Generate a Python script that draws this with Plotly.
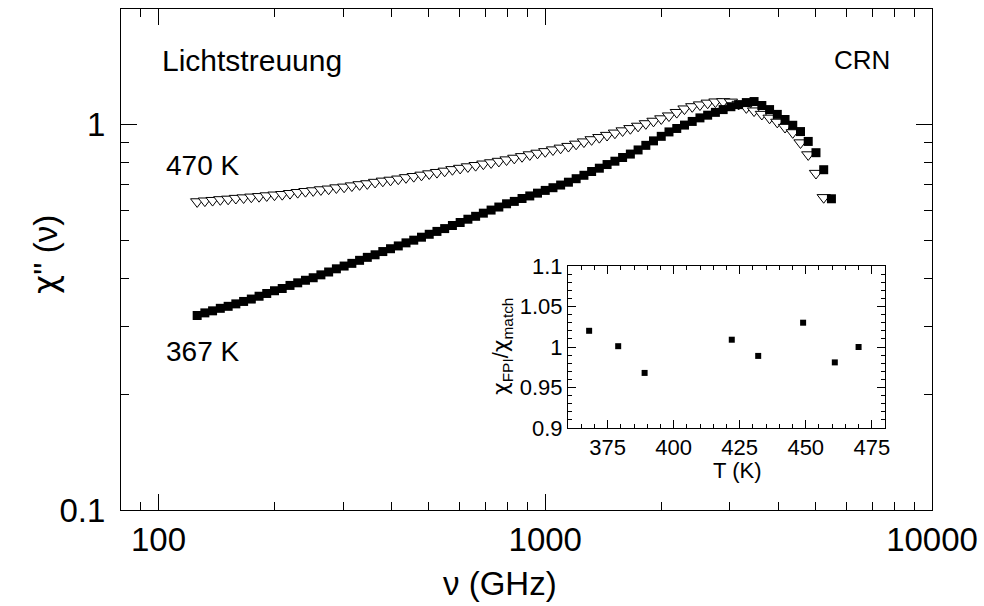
import math
import plotly.graph_objects as go

# ---------------- data ----------------
freq_ghz = [125.9, 131.8, 138.0, 144.5, 151.4, 158.5, 166.0, 173.8, 182.0, 190.5,
            199.5, 208.9, 218.8, 229.1, 239.9, 251.2, 263.0, 275.4, 288.4, 302.0,
            316.2, 331.1, 346.7, 363.1, 380.2, 398.1, 416.9, 436.5, 457.1, 478.6,
            501.2, 524.8, 549.5, 575.4, 602.6, 631.0, 660.7, 691.8, 724.4, 758.6,
            794.3, 831.8, 871.0, 912.0, 955.0, 1000, 1047, 1096, 1148, 1202,
            1259, 1318, 1380, 1445, 1514, 1585, 1660, 1738, 1820, 1905,
            1995, 2089, 2188, 2291, 2399, 2512, 2630, 2754, 2884, 3020,
            3162, 3311, 3467, 3631, 3802, 3981, 4169, 4365, 4571, 4786,
            5012, 5248, 5495]

chi_367K = [0.320, 0.325, 0.329, 0.334, 0.338, 0.343, 0.348, 0.353, 0.359, 0.365,
            0.371, 0.376, 0.383, 0.389, 0.395, 0.401, 0.408, 0.415, 0.423, 0.430,
            0.437, 0.445, 0.453, 0.460, 0.469, 0.477, 0.485, 0.494, 0.502, 0.511,
            0.520, 0.529, 0.538, 0.548, 0.558, 0.569, 0.579, 0.590, 0.601, 0.612,
            0.624, 0.633, 0.644, 0.654, 0.665, 0.676, 0.687, 0.698, 0.710, 0.725,
            0.740, 0.757, 0.772, 0.789, 0.805, 0.823, 0.840, 0.861, 0.885, 0.909,
            0.934, 0.959, 0.979, 0.999, 1.021, 1.043, 1.060, 1.078, 1.096, 1.115,
            1.129, 1.143, 1.150, 1.123, 1.096, 1.065, 1.033, 0.998, 0.961, 0.906,
            0.847, 0.765, 0.643]

chi_470K = [0.632, 0.635, 0.637, 0.640, 0.642, 0.645, 0.647, 0.650, 0.652, 0.655,
            0.658, 0.660, 0.664, 0.668, 0.672, 0.675, 0.679, 0.682, 0.687, 0.690,
            0.695, 0.700, 0.704, 0.710, 0.715, 0.719, 0.724, 0.730, 0.735, 0.741,
            0.747, 0.753, 0.759, 0.766, 0.772, 0.779, 0.785, 0.792, 0.798, 0.805,
            0.812, 0.820, 0.828, 0.837, 0.845, 0.853, 0.862, 0.871, 0.880, 0.892,
            0.904, 0.916, 0.928, 0.940, 0.953, 0.966, 0.979, 0.993, 1.008, 1.023,
            1.038, 1.056, 1.078, 1.101, 1.116, 1.128, 1.140, 1.148, 1.150, 1.147,
            1.132, 1.109, 1.088, 1.066, 1.042, 1.017, 0.986, 0.955, 0.899, 0.837,
            0.749, 0.648]

inset_T = [368, 379, 389, 422, 432, 449, 461, 470]
inset_ratio = [1.020, 1.001, 0.968, 1.009, 0.989, 1.030, 0.981, 1.000]

x_major = [100, 1000, 10000]
x_major_text = ["100", "1000", "10000"]
x_minor = [80, 90, 200, 300, 400, 500, 600, 700, 800, 900,
           2000, 3000, 4000, 5000, 6000, 7000, 8000, 9000]
y_major = [0.1, 1]
y_major_text = ["0.1", "1"]
y_minor = [0.2, 0.3, 0.4, 0.5, 0.6, 0.7, 0.8, 0.9, 2]

inset_x_ticks = [375, 400, 425, 450, 475]
inset_y_ticks = [0.9, 0.95, 1.0, 1.05, 1.1]
inset_y_text = ["0.9", "0.95", "1", "1.05", "1.1"]

# ---------------- figure ----------------
FONT = "Liberation Sans, Arial, Helvetica, sans-serif"
CHI = '<span style="font-family:DejaVu Sans">χ</span>'
W, H = 984, 606
ML, MR, MT, MB = 121, 52, 9, 96
PW, PH = W - ML - MR, H - MT - MB


def px(x):
    return (x - ML) / PW


def py(y):
    return (H - MB - y) / PH


fig = go.Figure()

fig.add_trace(go.Scatter(
    x=freq_ghz[:len(chi_470K)], y=chi_470K, mode="markers",
    marker=dict(symbol="triangle-down", size=11.5, color="white",
                line=dict(color="black", width=1)),
    xaxis="x", yaxis="y", showlegend=False))

fig.add_trace(go.Scatter(
    x=freq_ghz, y=chi_367K, mode="markers",
    marker=dict(symbol="square", size=9, color="black",
                line=dict(color="black", width=0)),
    xaxis="x", yaxis="y", showlegend=False))

fig.add_trace(go.Scatter(
    x=inset_T, y=inset_ratio, mode="markers",
    marker=dict(symbol="square", size=6, color="black",
                line=dict(width=0)),
    xaxis="x2", yaxis="y2", showlegend=False))

axis_common = dict(showline=True, linecolor="black", linewidth=1,
                   mirror="allticks", ticks="inside", tickcolor="black",
                   tickwidth=1, showgrid=False, zeroline=False, automargin=False)

fig.update_layout(
    width=W, height=H,
    margin=dict(l=ML, r=MR, t=MT, b=MB, autoexpand=False),
    paper_bgcolor="white", plot_bgcolor="white",
    font=dict(family=FONT, color="black"),
    xaxis=dict(type="log", range=[math.log10(80), 4],
               tickmode="array", tickvals=x_major, ticktext=x_major_text,
               ticklen=16, tickfont=dict(size=33), ticklabelstandoff=0,
               minor=dict(tickmode="array", tickvals=x_minor, ticks="inside",
                          ticklen=8, tickcolor="black", tickwidth=1),
               domain=[0, 1], anchor="y", **axis_common),
    yaxis=dict(type="log", range=[-1, math.log10(2)],
               tickmode="array", tickvals=y_major, ticktext=y_major_text,
               ticklen=16, tickfont=dict(size=33), ticklabelstandoff=8,
               minor=dict(tickmode="array", tickvals=y_minor, ticks="inside",
                          ticklen=8, tickcolor="black", tickwidth=1),
               domain=[0, 1], anchor="x", **axis_common),
    xaxis2=dict(range=[360, 480], tickmode="array", tickvals=inset_x_ticks,
                ticklen=8, tickfont=dict(size=22), ticklabelstandoff=0,
                minor=dict(dtick=5, tick0=360, ticks="inside", ticklen=4,
                           tickcolor="black", tickwidth=1),
                domain=[px(568), px(885)], anchor="y2", **axis_common),
    yaxis2=dict(range=[0.9, 1.1], tickmode="array", tickvals=inset_y_ticks,
                ticktext=inset_y_text,
                ticklen=8, tickfont=dict(size=22), ticklabelstandoff=0,
                minor=dict(dtick=0.01, tick0=0.9, ticks="inside", ticklen=4,
                           tickcolor="black", tickwidth=1),
                domain=[py(428), py(266)], anchor="x2", **axis_common),
)

ann = []


def add_text(text, x, y, size, xanchor="left", angle=0):
    ann.append(dict(text=text, x=px(x), y=py(y), xref="paper", yref="paper",
                    xanchor=xanchor, yanchor="middle", showarrow=False,
                    textangle=angle, font=dict(size=size, family=FONT, color="black")))


add_text("Lichtstreuung", 160, 60, 30)
add_text("CRN", 892, 60, 26, xanchor="right")
add_text("470 K", 164, 165, 28)
add_text("367 K", 164, 351, 28)
add_text("ν (GHz)", 500, 583, 33, xanchor="center")
add_text(CHI + "'' (ν)", 45, 255, 33, xanchor="center", angle=-90)
add_text("T (K)", 737, 471, 22, xanchor="center")
add_text(CHI + "<sub>FPI</sub>/" + CHI + "<sub>match</sub>", 502, 347, 22,
         xanchor="center", angle=-90)

fig.update_layout(annotations=ann)

fig.write_html("out.html")
